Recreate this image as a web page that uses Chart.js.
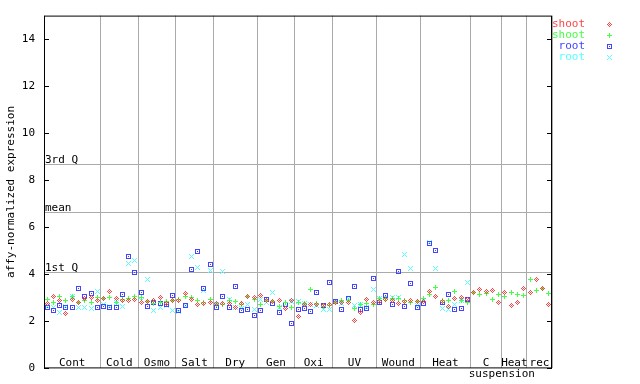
<!DOCTYPE html>
<html><head><meta charset="utf-8">
<style>html,body{margin:0;padding:0;background:#fff}#wrap{width:640px;height:384px}</style>
<script src="https://cdn.jsdelivr.net/npm/chart.js@4/dist/chart.umd.min.js"></script>
</head><body><div id="wrap"><canvas id="c" width="640" height="384"></canvas></div>
<script>
// ---------- data ----------
const groupLabels = ['Cont','Cold','Osmo','Salt','Dry','Gen','Oxi','UV','Wound','Heat','C','Heat','rec'];
const groupStarts = [0,9,15,21,27,34,40,46,53,60,68,73,77,81];
const subLabel = 'suspension';
const subLabelAt = 73;
const yTicks = [0,2,4,6,8,10,12,14];
const refNames = ['3rd Q','mean','1st Q'];
const refValues = [8.68,6.67,4.08];
const seriesNames = ['shoot','shoot','root','root'];

const shootA = [2.74,3.07,2.90,2.35,2.94,2.81,2.98,3.03,2.90,
  2.98,3.29,2.98,2.90,2.90,2.94,
  2.81,2.86,2.90,3.03,2.77,2.90,
  2.90,3.20,2.94,2.73,2.77,2.81,
  2.77,2.77,2.77,2.60,2.77,3.07,3.03,
  3.12,2.90,2.86,2.90,2.56,2.90,
  2.22,2.70,2.73,2.73,2.68,2.73,
  2.81,2.81,2.81,2.05,2.39,2.94,2.81,
  2.85,2.94,2.90,2.77,2.85,2.90,2.85,
  2.85,3.28,3.07,2.85,2.64,2.98,3.03,2.94,
  3.24,3.36,3.28,3.32,2.81,
  3.24,2.68,2.81,3.40,
  3.24,3.78,3.40,2.73];
const shootB = [2.94,2.81,3.07,2.90,3.07,2.81,2.90,2.81,3.03,
  2.98,3.03,2.81,2.94,2.98,3.07,
  3.03,2.86,2.75,2.81,2.86,2.90,
  2.94,3.07,3.03,2.90,2.81,2.94,
  2.73,2.73,2.90,2.86,2.73,3.07,2.94,
  2.73,2.90,2.86,2.64,2.81,2.60,
  2.81,2.77,3.36,2.77,2.64,2.68,
  2.81,2.90,2.90,2.56,2.73,2.77,2.73,
  2.98,2.98,2.98,2.98,2.90,2.81,2.85,
  2.98,3.15,3.44,2.90,2.90,3.28,2.90,2.81,
  3.24,3.15,3.20,2.94,3.15,
  3.07,3.24,3.15,3.10,
  3.78,3.32,3.40,3.20];
const rootA = [2.60,2.47,2.69,2.60,2.60,3.40,3.07,3.20,2.60,
  2.64,2.60,2.60,3.16,4.75,4.09,
  3.24,2.64,2.81,2.77,2.73,3.12,
  2.47,2.69,4.20,4.97,3.40,4.42,
  2.60,3.07,2.60,3.49,2.47,2.52,2.26,
  2.47,2.94,2.77,2.39,2.73,1.89,
  2.52,2.56,2.43,3.23,2.68,3.66,
  2.85,2.52,2.98,3.49,2.52,2.56,3.82,
  2.81,3.10,2.73,4.12,2.64,3.61,2.60,
  2.77,5.30,5.01,2.81,3.15,2.52,2.56,2.94,
  null,null,null,null,null,
  null,null,null,null,
  null,null,null,null];
const rootB = [2.62,2.60,2.39,2.64,3.07,2.60,2.60,2.56,3.29,
  2.70,2.62,2.81,2.64,4.45,4.60,
  2.90,3.78,2.47,2.60,2.69,2.47,
  2.43,2.69,4.75,4.29,3.32,4.16,
  2.70,4.12,2.94,2.60,2.56,2.70,2.52,
  2.94,2.81,3.24,2.60,2.65,2.85,
  2.85,2.77,2.70,2.68,2.52,2.52,
  2.85,2.75,2.98,2.68,2.73,2.60,3.36,
  2.98,3.03,3.03,3.03,4.84,4.25,2.68,
  2.90,5.37,4.25,2.56,2.50,2.70,2.90,3.66,
  null,null,null,null,null,
  null,null,null,null,
  null,null,null,null];

// ---------- styles ----------
const colors = ['#ff4444','#44ff44','#4444ff','#55ffff'];
const GRID = '#aaaaaa';
const FONT = '11px "DejaVu Sans Mono", monospace';

function marker(kind, color){
  const c = document.createElement('canvas'); c.width = 5; c.height = 5;
  const x = c.getContext('2d'); x.fillStyle = color;
  for (let dy=-2; dy<=2; dy++) for (let dx=-2; dx<=2; dx++){
    const ad = Math.abs(dx), bd = Math.abs(dy); let on = false;
    if (kind==='diamond') on = (ad+bd===2) || (ad+bd===0);
    if (kind==='plus') on = (dx===0 || dy===0);
    if (kind==='square') on = (ad===2 || bd===2) || (ad===0 && bd===0);
    if (kind==='x') on = (ad===bd);
    if (on) x.fillRect(dx+2, dy+2, 1, 1);
  }
  return c;
}
const markers = [marker('diamond',colors[0]), marker('plus',colors[1]), marker('square',colors[2]), marker('x',colors[3])];

const toPts = arr => arr.map((v,i)=> v==null ? null : {x:i+0.5, y:v}).filter(p=>p);
const seriesData = [shootA, shootB, rootA, rootB];

const deco = {
  id:'deco',
  beforeDraw(chart){ chart.ctx.imageSmoothingEnabled = false; },
  beforeDatasetsDraw(chart){
    const {ctx, chartArea:a, scales:{x, y}} = chart;
    ctx.save();
    // reference lines
    ctx.strokeStyle = GRID; ctx.lineWidth = 1;
    ctx.font = FONT; ctx.fillStyle = '#000'; ctx.textAlign='left'; ctx.textBaseline='alphabetic';
    refValues.forEach((v,i)=>{
      const py = Math.round(y.getPixelForValue(v)) + 0.5;
      ctx.beginPath(); ctx.moveTo(a.left, py); ctx.lineTo(a.right, py); ctx.stroke();
      ctx.fillText(refNames[i], a.left+1, py-1.5);
    });
    // border
    ctx.strokeStyle = '#000';
    ctx.strokeRect(a.left+0.5, a.top+0.5, a.right-a.left-1, a.bottom-a.top-1);
    // inward ticks on both sides
    yTicks.forEach(v=>{
      const py = Math.round(y.getPixelForValue(v)) + 0.5;
      ctx.beginPath(); ctx.moveTo(a.left, py); ctx.lineTo(a.left+5, py);
      ctx.moveTo(a.right-5, py); ctx.lineTo(a.right, py); ctx.stroke();
    });
    // group labels
    ctx.textAlign='center';
    groupLabels.forEach((t,i)=>{
      const cx = (x.getPixelForValue(groupStarts[i]) + x.getPixelForValue(groupStarts[i+1]))/2;
      ctx.fillText(t, cx, a.bottom-2);
    });
    ctx.fillText(subLabel, x.getPixelForValue(subLabelAt), a.bottom+9);
    ctx.restore();
  },
  afterDraw(chart){
    const {ctx, chartArea:a} = chart;
    ctx.save();
    ctx.font = FONT; ctx.textAlign='right'; ctx.textBaseline='middle';
    seriesNames.forEach((n,i)=>{
      const py = 24 + i*11;
      ctx.fillStyle = colors[i];
      ctx.fillText(n, a.right+33, py);
      ctx.imageSmoothingEnabled = false;
      ctx.drawImage(markers[i], a.right+55, py-2);
    });
    ctx.restore();
  }
};

new Chart(document.getElementById('c'), {
  type:'scatter',
  data:{ datasets: seriesData.map((arr,i)=>({
    label: seriesNames[i], data: toPts(arr),
    pointStyle: markers[i], pointRadius: 3, showLine:false
  }))},
  options:{
    responsive:false, animation:false, devicePixelRatio:1,
    layout:{padding:{left:0, right:88, top:13, bottom:15}},
    plugins:{legend:{display:false}, tooltip:{enabled:false}},
    scales:{
      x:{type:'linear', min:0, max:81,
        afterBuildTicks: s => { s.ticks = groupStarts.map(v=>({value:v})); },
        afterFit: s => { s.height = 0; },
        ticks:{display:false},
        grid:{color:GRID, lineWidth:1, drawTicks:false},
        border:{display:false}
      },
      y:{type:'linear', min:0, max:15,
        afterBuildTicks: s => { s.ticks = yTicks.map(v=>({value:v})); },
        afterFit: s => { s.width = 44; },
        ticks:{font:{family:'"DejaVu Sans Mono", monospace', size:11}, color:'#000', padding:9},
        grid:{display:false, drawTicks:false},
        border:{display:false},
        title:{display:true, text:'affy-normalized expression', color:'#000',
          font:{family:'"DejaVu Sans Mono", monospace', size:11}, padding:{top:5,bottom:0}}
      }
    }
  },
  plugins:[deco]
});
</script></body></html>
